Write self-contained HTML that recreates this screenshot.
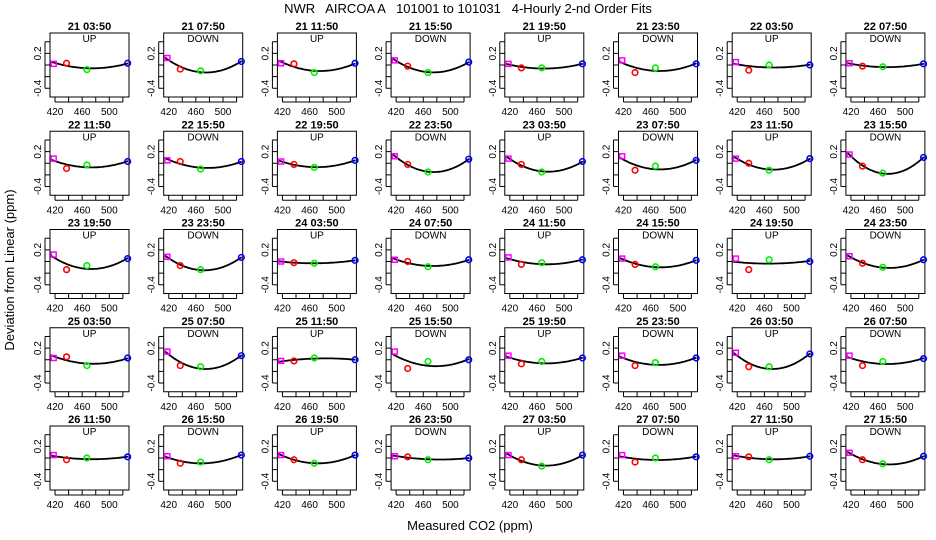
<!DOCTYPE html>
<html><head><meta charset="utf-8"><style>
html,body{margin:0;padding:0;background:#fff;}
svg{display:block;font-family:"Liberation Sans",Arial,sans-serif;}
#ttl{white-space:pre;}
</style></head><body>
<svg id="chart" width="936" height="540" xmlns="http://www.w3.org/2000/svg">
<text id="ttl" x="468" y="13" text-anchor="middle" font-size="13" xml:space="preserve">NWR   AIRCOA A   101001 to 101031   4-Hourly 2-nd Order Fits</text>
<text transform="translate(14,270) rotate(-90)" text-anchor="middle" font-size="13">Deviation from Linear (ppm)</text>
<text x="470" y="530" text-anchor="middle" font-size="13">Measured CO2 (ppm)</text>
<g id="panels"></g>
</svg>
<script>
const panelTitles = ["21 03:50","21 07:50","21 11:50","21 15:50","21 19:50","21 23:50","22 03:50","22 07:50",
"22 11:50","22 15:50","22 19:50","22 23:50","23 03:50","23 07:50","23 11:50","23 15:50",
"23 19:50","23 23:50","24 03:50","24 07:50","24 11:50","24 15:50","24 19:50","24 23:50",
"25 03:50","25 07:50","25 11:50","25 15:50","25 19:50","25 23:50","26 03:50","26 07:50",
"26 11:50","26 15:50","26 19:50","26 23:50","27 03:50","27 07:50","27 11:50","27 15:50"];
const directions = ["UP","DOWN"];
const xValues = [418, 437, 467, 527];
const magentaDev = [0.02,0.12,0.03,0.08,0.02,0.08,0.05,0.03, 0.08,0.05,0.03,0.12,0.08,0.12,0.08,0.15, 0.12,0.08,0,0.03,0.07,0.05,0.05,0.09, 0.03,0.14,-0.02,0.14,0.07,0.07,0.12,0.07, 0.05,0.03,0.05,0.03,0.05,0.05,0.03,0.09];
const redDev = [0.03,-0.07,0.02,-0.02,-0.05,-0.13,-0.09,-0.02, -0.09,0.03,-0.02,-0.02,-0.02,-0.12,0,-0.05, -0.14,-0.07,-0.02,0,-0.05,-0.05,-0.14,-0.03, 0.05,-0.1,-0.02,-0.15,-0.07,-0.1,-0.12,-0.1, -0.03,-0.09,-0.03,0.02,-0.03,-0.07,0.02,-0.03];
const greenDev = [-0.08,-0.1,-0.13,-0.13,-0.05,-0.05,0,-0.03, -0.03,-0.1,-0.07,-0.15,-0.15,-0.05,-0.12,-0.17, -0.07,-0.14,-0.03,-0.09,-0.02,-0.09,0.03,-0.1, -0.1,-0.12,0.03,-0.03,-0.03,-0.05,-0.12,-0.03, 0,-0.07,-0.09,-0.03,-0.14,0,-0.03,-0.1];
const blueDev = [0.03,0.06,0.03,0.05,0.02,0.02,0,0.02, 0.03,0.03,0.05,0.07,0.03,0.05,0.08,0.1, 0.05,0.07,0.02,0.03,0.03,0.02,0,0.03, 0.03,0.07,0,0,0.03,0.03,0.1,0.02, 0.02,0.05,0.05,0,0.05,0.02,0.03,0.03];
const yTicks = [0.4,0.2,0,-0.2,-0.4];
const yTickLabels = ["0.2","-0.4"];
const xTicks = [420,440,460,480,500,520];
const xTickLabels = [420,460,500];

const NS="http://www.w3.org/2000/svg";
const root=document.getElementById('panels');
function mk(tag,attrs,parent){const e=document.createElementNS(NS,tag);for(const k in attrs)e.setAttribute(k,attrs[k]);parent.appendChild(e);return e;}
const W=79,H=64,X0=412.6,X1=529,Y0=-0.55,Y1=0.55;
function fit(xs,ys){
  const m=470;let S=[[0,0,0],[0,0,0],[0,0,0]],b=[0,0,0];
  for(let i=0;i<xs.length;i++){const u=(xs[i]-m)/50,v=[1,u,u*u];
    for(let r=0;r<3;r++){b[r]+=v[r]*ys[i];for(let c=0;c<3;c++)S[r][c]+=v[r]*v[c];}}
  for(let i=0;i<3;i++){for(let j=i+1;j<3;j++){const f=S[j][i]/S[i][i];for(let k=i;k<3;k++)S[j][k]-=f*S[i][k];b[j]-=f*b[i];}}
  const c=[0,0,0];for(let i=2;i>=0;i--){let s=b[i];for(let k=i+1;k<3;k++)s-=S[i][k]*c[k];c[i]=s/S[i][i];}
  return x=>{const u=(x-m)/50;return c[0]+c[1]*u+c[2]*u*u;};
}
panelTitles.forEach((t,i)=>{
  const col=i%8,row=Math.floor(i/8);
  const L=50+col*113.7,T=33+row*98.25;
  const sx=v=>L+(v-X0)/(X1-X0)*W, sy=v=>T+(Y1-v)/(Y1-Y0)*H;
  const g=mk('g',{},root);
  
  
  const tt=mk('text',{x:L+W/2,y:T-3,'text-anchor':'middle','font-size':11,'font-weight':'bold'},g);tt.textContent=t;
  
  
  const dl=mk('text',{x:L+W/2,y:T+9,'text-anchor':'middle','font-size':10},g);dl.textContent=directions[i%2];
  
  
  const box=mk('rect',{x:L,y:T,width:W,height:H,fill:'none',stroke:'#000','stroke-width':1},g);
  
  
  yTicks.forEach(v=>{mk('line',{x1:L-5,x2:L,y1:sy(v),y2:sy(v),stroke:'#000'},g);});
  mk('line',{x1:L-5,x2:L-5,y1:sy(0.4),y2:sy(-0.4),stroke:'#000'},g);
  yTickLabels.forEach(s=>{const v=parseFloat(s);const e=mk('text',{transform:`translate(${L-9},${sy(v)}) rotate(-90)`,'text-anchor':'middle','font-size':10},g);e.textContent=s;
    
    });
  xTicks.forEach(v=>{mk('line',{x1:sx(v),x2:sx(v),y1:T+H,y2:T+H+5,stroke:'#000'},g);});
  mk('line',{x1:sx(420),x2:sx(520),y1:T+H+5,y2:T+H+5,stroke:'#000'},g);
  xTickLabels.forEach(v=>{const e=mk('text',{x:sx(v),y:T+H+18,'text-anchor':'middle','font-size':10},g);e.textContent=v;
    
    });
  const ys=[magentaDev[i],redDev[i],greenDev[i],blueDev[i]];
  const f=fit(xValues,ys);
  let d='';for(let x=X0+1;x<=X1-0.5;x+=2)d+=(d?'L':'M')+sx(x).toFixed(1)+','+sy(f(x)).toFixed(1);
  const cv=mk('path',{d:d,fill:'none',stroke:'#000','stroke-width':1.8},g);
  
  
  const cols=['#ff00ff','#ff0000','#00ee00','#0000ff'];
  ys.forEach((v,k)=>{
    let p;
    if(k===0){p=mk('rect',{x:sx(xValues[k])-2.5,y:sy(v)-2.5,width:5,height:5,fill:'none',stroke:cols[k],'stroke-width':1.5},g);}
    else{p=mk('circle',{cx:sx(xValues[k]),cy:sy(v),r:2.8,fill:'none',stroke:cols[k],'stroke-width':1.6},g);}
    
    
  });
});
</script>
</body></html>
